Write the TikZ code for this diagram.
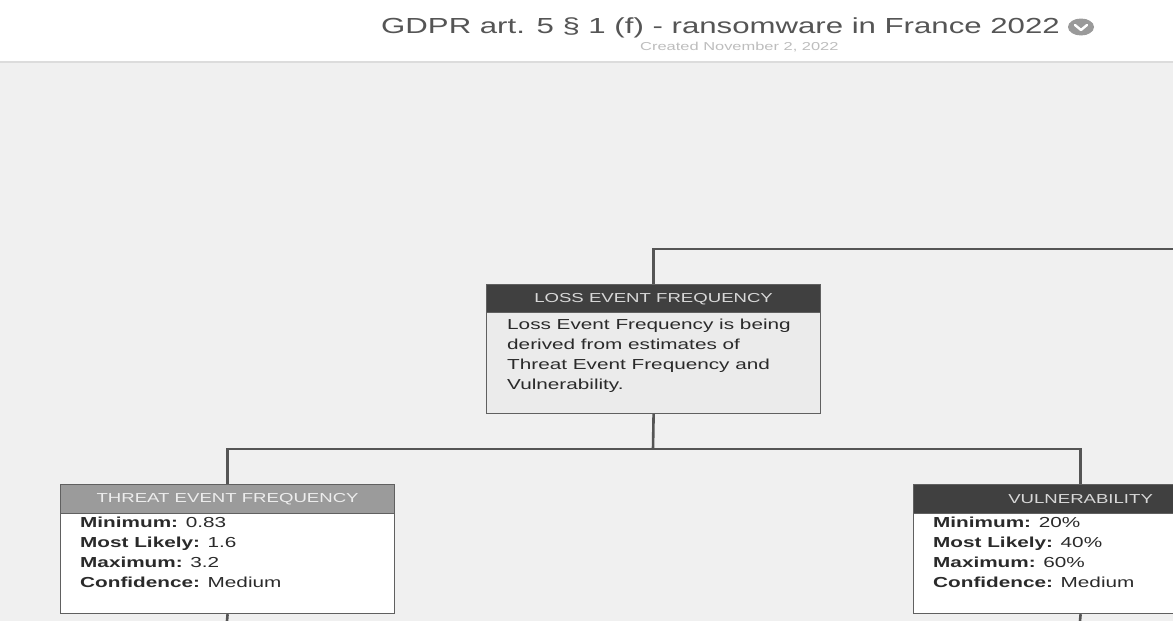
\documentclass[tikz,border=0pt]{standalone}
\usepackage{fontspec}
\setmainfont[FakeStretch=1.43]{Liberation Sans}
\usetikzlibrary{calc,shapes.geometric}
\definecolor{bgc}{HTML}{F0F0F0}
\definecolor{sepc}{HTML}{DCDCDC}
\definecolor{darkhd}{HTML}{404040}
\definecolor{lighthd}{HTML}{9B9B9B}
\definecolor{hdtext}{HTML}{D8D8D8}
\definecolor{hdtextl}{HTML}{EDEDED}
\definecolor{linec}{HTML}{555555}
\definecolor{boxline}{HTML}{606060}
\definecolor{bodyc}{HTML}{2A2A2A}
\definecolor{titlec}{HTML}{555555}
\definecolor{subc}{HTML}{BDBDBD}
\definecolor{iconc}{HTML}{9A9A9A}
\definecolor{lefbody}{HTML}{EBEBEB}
\tikzset{
  conn/.style={draw=linec, line width=2.6pt},
  hdbox/.style={rectangle, draw=boxline, line width=1.2pt, minimum width=334pt, minimum height=29pt, inner sep=0pt, font=\fontsize{13}{15}\selectfont},
  darkhead/.style={hdbox, fill=darkhd, text=hdtext},
  lighthead/.style={hdbox, fill=lighthd, text=hdtextl},
  bodybox/.style={rectangle, draw=boxline, line width=1.2pt, minimum width=334pt, inner sep=0pt},
  bodytext/.style={inner sep=0pt, align=left, text=bodyc, font=\fontsize{14.5}{20}\selectfont},
}
\begin{document}
\begin{tikzpicture}[x=1pt, y=-1pt]
\useasboundingbox (0,0) rectangle (1173,621);
% background
\fill[white] (0,0) rectangle (1173,62);
\fill[bgc] (0,62) rectangle (1173,621);
\draw[sepc, line width=2pt] (0,62) -- (1173,62);
% title
\node[anchor=base west, inner sep=0pt, text=titlec, font=\fontsize{21.8}{24}\selectfont] (title) at (381,34) {GDPR art. 5 § 1 (f) - ransomware in France 2022};
\node[anchor=base west, inner sep=0pt, text=subc, font=\fontsize{11.5}{12}\selectfont] (created) at (640,50) {Created November 2, 2022};
\node[ellipse, fill=iconc, minimum width=26pt, minimum height=17pt, inner sep=0pt] (icon) at (1081,27) {};
\draw[white, line width=2.4pt, line cap=round, line join=round] ($(icon.center)+(-6,-2)$) -- ($(icon.center)+(0,3)$) -- ($(icon.center)+(6,-2)$);
% loss event frequency
\node[darkhead, anchor=north west] (lefh) at (486,284) {LOSS EVENT FREQUENCY};
\node[bodybox, fill=lefbody, minimum height=101pt, anchor=north west] (lefb) at (486,312) {};
\node[bodytext, anchor=north west] (leftxt) at (507,318.5) {Loss Event Frequency is being\\derived from estimates of\\Threat Event Frequency and\\Vulnerability.};
% threat event frequency
\node[lighthead, anchor=north west] (tefh) at (60,484) {THREAT EVENT FREQUENCY};
\node[bodybox, fill=white, minimum height=100pt, anchor=north west] (tefb) at (60,513) {};
\node[bodytext, anchor=north west] (teftxt) at (80,516.5) {\textbf{Minimum:} 0.83\\\textbf{Most Likely:} 1.6\\\textbf{Maximum:} 3.2\\\textbf{Confidence:} Medium};
% vulnerability
\node[darkhead, anchor=north west] (vulh) at (913,484) {VULNERABILITY};
\node[bodybox, fill=white, minimum height=100pt, anchor=north west] (vulb) at (913,513) {};
\node[bodytext, anchor=north west] (vultxt) at (933,516.5) {\textbf{Minimum:} 20\%\\\textbf{Most Likely:} 40\%\\\textbf{Maximum:} 60\%\\\textbf{Confidence:} Medium};
% connectors
\coordinate (topend) at (1173,249);
\coordinate (split) at (653,449);
\coordinate (tefend) at (227,621);
\coordinate (vulend) at (1080,621);
\draw[conn] (lefh.north) |- (topend);
\draw[conn] (lefb.south) -- (split);
\draw[conn] (split) -| (tefh.north);
\draw[conn] (split) -| (vulh.north);
\draw[conn] (tefb.south) -- (tefend);
\draw[conn] (vulb.south) -- (vulend);
\end{tikzpicture}
\end{document}
